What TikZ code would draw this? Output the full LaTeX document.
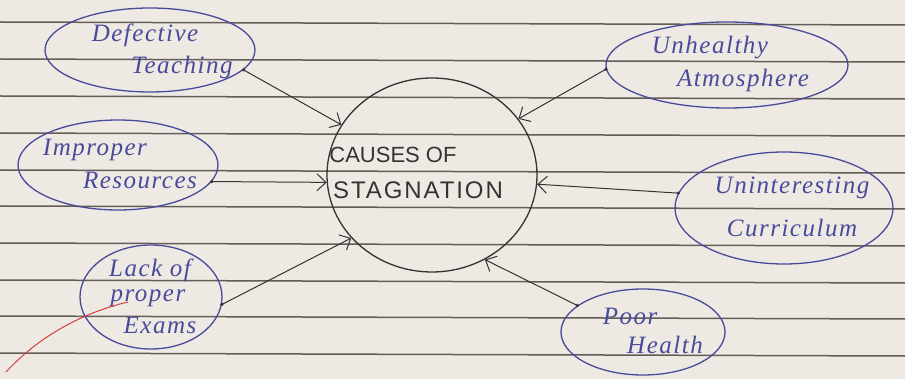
\documentclass[tikz,border=0pt]{standalone}
\usepackage{fontspec}
\setmainfont{Liberation Serif}
\newfontfamily\capsfont{Liberation Sans}
\newfontfamily\widecapsfont[LetterSpace=8]{Liberation Sans}
\newfontfamily\handfont[LetterSpace=6]{Liberation Serif}
\usetikzlibrary{arrows.meta,shapes.geometric}
\definecolor{paper}{RGB}{238,234,227}
\definecolor{rule}{RGB}{100,92,86}
\definecolor{pen}{RGB}{72,74,155}
\definecolor{ink}{RGB}{55,50,50}
\definecolor{redpen}{RGB}{212,62,62}
\tikzset{
  bubble/.style={draw=pen, line width=1.3pt, ellipse, inner sep=0pt},
  hand/.style={text=pen, font=\handfont\itshape\fontsize{25}{27}\selectfont, inner sep=0pt},
  hub/.style={draw=ink, line width=1.3pt, ellipse, inner sep=0pt,
              minimum width=210pt, minimum height=194pt},
  hubtext/.style={text=ink, font=\capsfont\fontsize{22}{24}\selectfont, inner sep=0pt},
  link/.style={draw=ink, line width=1pt, -{Straight Barb[length=9pt,width=17pt]}},
  penrule/.style={draw=rule, line width=1.5pt}
}
\begin{document}
\begin{tikzpicture}[x=1pt,y=-1pt]
  % sheet of ruled paper
  \fill[paper] (0,0) rectangle (905,379);
  \useasboundingbox (0,0) rectangle (905,379);
  \foreach \yy in {22,59,96,133,170,206,243,280,316,353}
    \draw[penrule] (0,\yy) -- (905,\yy+3);

  % central topic
  \node[hub] (c) at (432,175) {};
  \node[hubtext] (c1) at (393,155) {CAUSES OF};
  \node[hubtext, font=\widecapsfont\fontsize{24}{26}\selectfont] (c2) at (418,190) {STAGNATION};

  % causes
  \node[bubble, minimum width=210pt, minimum height=84pt] (dt) at (150,50) {};
  \node[hand] (dt1) at (145,35) {Defective};
  \node[hand] (dt2) at (182,67) {Teaching};

  \node[bubble, minimum width=200pt, minimum height=90pt] (ir) at (118,165) {};
  \node[hand] (ir1) at (95,150) {Improper};
  \node[hand] (ir2) at (140,180) {Resources};

  \node[bubble, minimum width=142pt, minimum height=104pt] (lpe) at (151,297) {};
  \node[hand] (lpe1) at (150,270) {Lack of};
  \node[hand] (lpe2) at (148,298) {proper};
  \node[hand] (lpe3) at (160,325) {Exams};

  \node[bubble, minimum width=242pt, minimum height=86pt] (ua) at (727,65) {};
  \node[hand] (ua1) at (710,48) {Unhealthy};
  \node[hand] (ua2) at (743,80) {Atmosphere};

  \node[bubble, minimum width=218pt, minimum height=112pt] (uc) at (784,208) {};
  \node[hand] (uc1) at (792,188) {Uninteresting};
  \node[hand] (uc2) at (792,228) {Curriculum};

  \node[bubble, minimum width=164pt, minimum height=86pt] (ph) at (643,332) {};
  \node[hand] (ph1) at (630,316) {Poor};
  \node[hand] (ph2) at (665,345) {Health};

  % arrows into the centre
  \draw[link] (dt.-12) -- (c.151);
  \draw[link] (ir.-10) -- (c.184);
  \draw[link] (lpe.-6) -- (c.218);
  \draw[link] (ua.182) -- (c.33);
  \draw[link] (uc.172) -- (c.-5);
  \draw[link] (ph.158) -- (c.-58);
  \foreach \p in {dt.-12, ir.-10, lpe.-6, ua.182, uc.172, ph.158}
    \fill[ink] (\p) circle (1.8pt);

  % red margin stroke
  \coordinate (r0) at (6,372);
  \coordinate (r1) at (128,302);
  \draw[redpen, line width=1pt] (r0) .. controls (40,335) and (85,312) .. (r1);
\end{tikzpicture}
\end{document}
